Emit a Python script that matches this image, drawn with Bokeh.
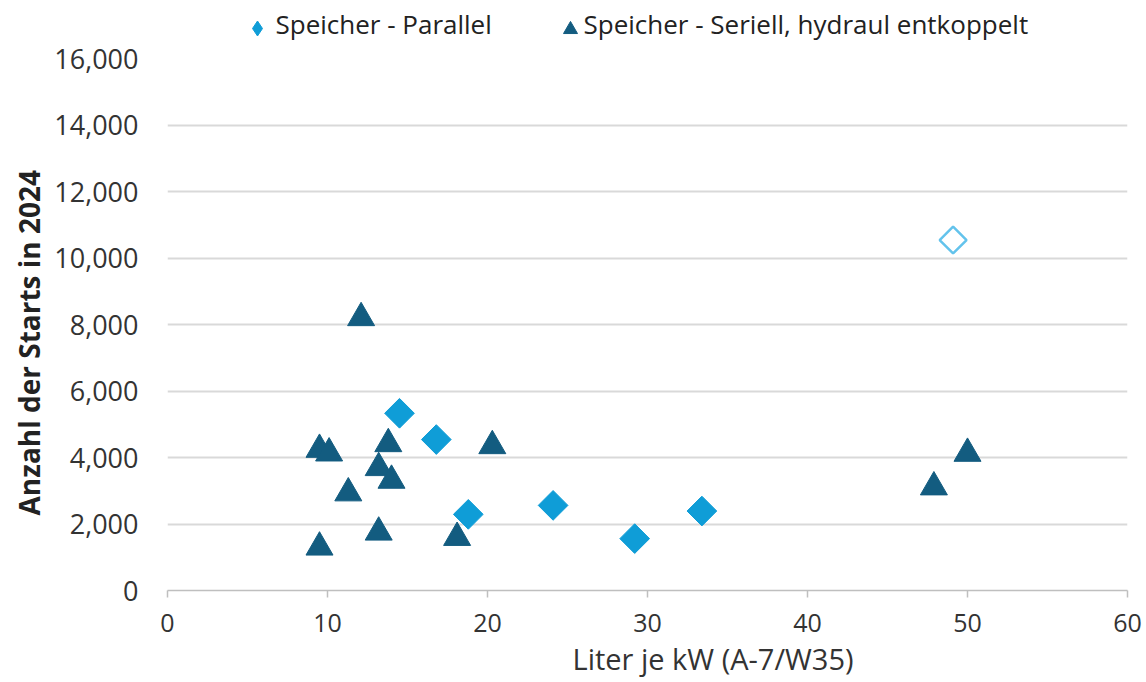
import math
from bokeh.plotting import figure
from bokeh.layouts import column
from bokeh.models import NumeralTickFormatter, FixedTicker, Range1d, Title
from bokeh.core.properties import value
from bokeh.embed import file_html
from bokeh.resources import INLINE

# Speicher - Parallel
par_x = [14.5, 16.8, 18.8, 24.1, 29.2, 33.4]
par_y = [5330, 4540, 2290, 2560, 1560, 2390]
# highlighted (hollow) point of the parallel series
hl_x = [49.1]
hl_y = [10540]
# Speicher - Seriell, hydraul entkoppelt
ser_x = [12.1, 9.5, 10.1, 13.8, 13.2, 14.0, 11.3, 13.2, 18.1, 9.5, 20.3, 47.9, 50.0]
ser_y = [8200, 4240, 4130, 4410, 3690, 3310, 2930, 1750, 1590, 1300, 4350, 3110, 4120]

x_ticks = [0, 10, 20, 30, 40, 50, 60]
y_ticks = [0, 2000, 4000, 6000, 8000, 10000, 12000, 14000, 16000]
labels = ["Speicher - Parallel", "Speicher - Seriell, hydraul entkoppelt"]

FONT = "Open Sans"
C_PAR = "#0F9DD7"
C_SER = "#135C80"
C_HL = "#63C3EC"

W = 1146
LEG_H = 41
H = 680 - LEG_H
TOP, BOT, LEFT, RIGHT = 58 - LEG_H, 90, 167, W - 1127

# ---- legend strip (x/y ranges in page pixels) ----
lf = figure(width=W, height=LEG_H, output_backend="svg", toolbar_location=None,
            x_axis_type=None, y_axis_type=None,
            x_range=Range1d(LEFT, W - RIGHT), y_range=Range1d(LEG_H, 0),
            min_border_left=LEFT, min_border_right=RIGHT,
            min_border_top=0, min_border_bottom=0)
lf.outline_line_color = None
lf.scatter(x=[257], y=[28], marker="diamond", size=15, fill_color=C_PAR, line_color=C_PAR)
lf.scatter(x=[570], y=[29], marker="triangle", size=14, fill_color=C_SER, line_color=C_SER)
lf.text(x=[275, 583], y=[23, 23], text=labels, text_font=value(FONT),
        text_font_size="26px", text_color="#222222", text_baseline="middle", text_align="left")

# ---- main chart ----
p = figure(width=W, height=H, output_backend="svg", toolbar_location=None,
           x_range=Range1d(0, 60), y_range=Range1d(0, 16000),
           min_border_left=LEFT, min_border_right=RIGHT, min_border_top=TOP, min_border_bottom=BOT)
p.outline_line_color = None
p.background_fill_color = "white"

p.scatter(ser_x, ser_y, marker="triangle", size=27, fill_color=C_SER,
          line_color=C_SER, line_width=1)
p.scatter(par_x, par_y, marker="square", angle=math.pi / 4, size=21,
          fill_color=C_PAR, line_color=C_PAR, line_width=1)
p.scatter(hl_x, hl_y, marker="square", angle=math.pi / 4, size=19,
          fill_color="white", line_color=C_HL, line_width=2.5)

p.xaxis.ticker = FixedTicker(ticks=x_ticks)
p.yaxis.ticker = FixedTicker(ticks=y_ticks)
p.yaxis.formatter = NumeralTickFormatter(format="0,0")
p.xaxis.axis_line_color = "#BFBFBF"
p.xaxis.axis_line_width = 1.5
p.xaxis.major_tick_line_color = "#BFBFBF"
p.xaxis.major_tick_line_width = 1.5
p.xaxis.major_tick_in = 0
p.xaxis.major_tick_out = 7
p.xaxis.minor_tick_line_color = None
p.xaxis.major_label_standoff = 16
p.xaxis.major_label_text_font = FONT
p.xaxis.major_label_text_font_size = "25px"
p.xaxis.major_label_text_color = "#333333"

xt = Title(text="Liter je kW (A-7/W35)", align="left", offset=405, standoff=4)
xt.text_font = FONT
xt.text_font_size = "29px"
xt.text_font_style = "normal"
xt.text_color = "#333333"
p.add_layout(xt, "below")

p.yaxis.axis_line_color = None
p.yaxis.major_tick_line_color = None
p.yaxis.minor_tick_line_color = None
p.yaxis.major_label_standoff = 23
p.yaxis.major_label_text_font = FONT
p.yaxis.major_label_text_font_size = "27px"
p.yaxis.major_label_text_color = "#333333"

yt = Title(text="Anzahl der Starts in 2024", align="left", offset=75, standoff=8)
yt.text_font = FONT
yt.text_font_size = "28px"
yt.text_font_style = "bold"
yt.text_color = "#222222"
p.add_layout(yt, "left")

p.xgrid.grid_line_color = None
p.ygrid.grid_line_color = "#D9D9D9"
p.ygrid.grid_line_width = 2

layout = column(lf, p, spacing=0)
open("out.html", "w").write(file_html(layout, INLINE))
